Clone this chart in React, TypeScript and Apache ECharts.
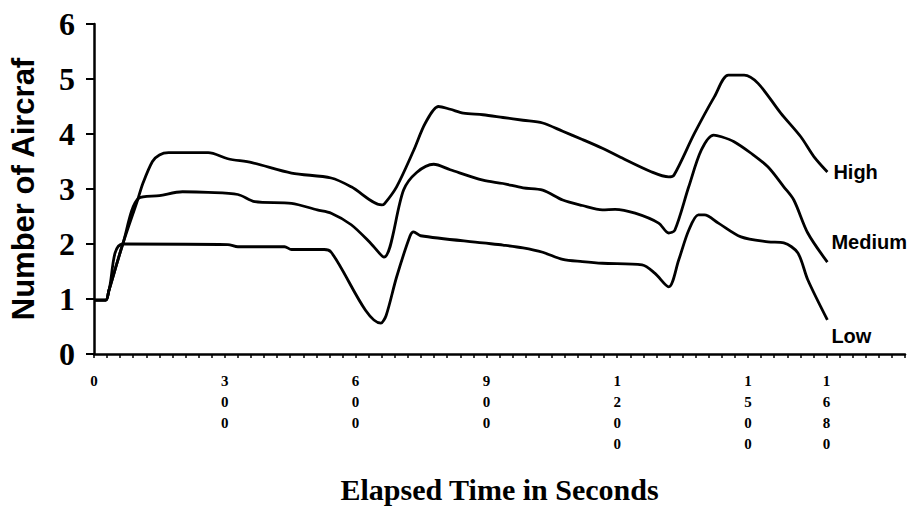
import React, { useEffect, useRef } from "react";
import * as echarts from "echarts";

// [elapsed seconds, number of aircraft]
const highData: [number, number][] = [
  [0, 0.98], [27, 0.98], [34, 1.15], [66, 2.0], [100, 2.8], [112, 3.1], [134, 3.5], [150, 3.62],
  [171, 3.66], [262, 3.66], [307, 3.55], [362, 3.48], [453, 3.29], [544, 3.2], [590, 3.04],
  [660, 2.71], [666, 2.73], [694, 3.04], [733, 3.7], [760, 4.2], [790, 4.5], [817, 4.45],
  [847, 4.38], [892, 4.35], [938, 4.3], [984, 4.25], [1029, 4.2], [1075, 4.05], [1120, 3.9],
  [1166, 3.74], [1204, 3.59], [1279, 3.31], [1318, 3.22], [1330, 3.25], [1377, 4.01],
  [1423, 4.68], [1455, 5.07], [1491, 5.07], [1523, 4.92], [1575, 4.38], [1621, 3.95],
  [1651, 3.59], [1682, 3.31],
];

const mediumData: [number, number][] = [
  [0, 0.98], [27, 0.98], [34, 1.15], [66, 2.0], [102, 2.83], [150, 2.88], [203, 2.95],
  [262, 2.94], [330, 2.9], [369, 2.77], [453, 2.74], [512, 2.62], [544, 2.56], [590, 2.35],
  [635, 2.01], [665, 1.76], [710, 2.98], [740, 3.3], [779, 3.45], [817, 3.35], [892, 3.16],
  [938, 3.1], [984, 3.02], [1029, 2.98], [1075, 2.8], [1120, 2.7], [1166, 2.62], [1195, 2.63],
  [1241, 2.56], [1295, 2.38], [1318, 2.2], [1332, 2.25], [1364, 3.04], [1393, 3.71],
  [1421, 3.98], [1439, 3.95], [1468, 3.86], [1507, 3.65], [1546, 3.4], [1582, 3.04],
  [1605, 2.8], [1637, 2.2], [1682, 1.67],
];

const lowData: [number, number][] = [
  [0, 0.98], [27, 0.98], [34, 1.15], [66, 2.0], [307, 1.99], [330, 1.95], [437, 1.95],
  [453, 1.9], [528, 1.9], [544, 1.85], [658, 0.56], [670, 0.7], [694, 1.4], [725, 2.15],
  [733, 2.22], [749, 2.15], [892, 2.02], [938, 1.98], [984, 1.93], [1029, 1.85], [1075, 1.72],
  [1120, 1.68], [1166, 1.65], [1257, 1.62], [1286, 1.47], [1318, 1.22], [1341, 1.71],
  [1364, 2.25], [1386, 2.53], [1400, 2.53], [1432, 2.38], [1484, 2.13], [1546, 2.04],
  [1582, 2.02], [1614, 1.84], [1637, 1.35], [1682, 0.62],
];

const xLabelValues = [0, 300, 600, 900, 1200, 1500, 1680];
const yTicks = [0, 1, 2, 3, 4, 5, 6];

const seriesNames = ["High", "Medium", "Low"];
const seriesData = [highData, mediumData, lowData];
const labelOffsets: [number, number][] = [[2, 0], [0, -20], [0, 16]];

export default function App() {
  const ref = useRef<HTMLDivElement>(null);
  useEffect(() => {
    if (!ref.current) return;
    const chart = echarts.init(ref.current, undefined, { renderer: "svg" });
    chart.setOption({
      animation: false,
      backgroundColor: "#ffffff",
      grid: { left: 88, right: 10, top: 24, bottom: 169 },
      xAxis: {
        type: "value",
        min: 0,
        max: 1860,
        interval: 30,
        name: "Elapsed Time in Seconds",
        nameLocation: "middle",
        nameGap: 120,
        nameTextStyle: {
          fontFamily: "Liberation Serif",
          fontWeight: "bold",
          fontSize: 30,
          color: "#000",
        },
        axisLine: { show: true, onZero: false, lineStyle: { color: "#000", width: 2.5 } },
        axisTick: { show: true, inside: false, length: 4, lineStyle: { color: "#000", width: 1.5 } },
        splitLine: { show: false },
        axisLabel: {
          customValues: xLabelValues,
          formatter: (v: number) => String(v).split("").join("\n"),
          fontFamily: "Liberation Serif",
          fontWeight: "bold",
          fontSize: 15,
          lineHeight: 21,
          color: "#000",
          margin: 16,
        },
      },
      yAxis: {
        type: "value",
        min: 0,
        max: 6,
        interval: 1,
        name: "Number of Aircraf",
        nameLocation: "middle",
        nameRotate: 90,
        nameGap: 55,
        nameTextStyle: {
          fontFamily: "Liberation Sans",
          fontWeight: "bold",
          fontSize: 31,
          color: "#000",
        },
        axisLine: { show: true, lineStyle: { color: "#000", width: 2.5 } },
        axisTick: { show: true, inside: false, length: 8, lineStyle: { color: "#000", width: 2 } },
        splitLine: { show: false },
        axisLabel: {
          formatter: (v: number) => (yTicks.includes(v) ? String(v) : ""),
          fontFamily: "Liberation Serif",
          fontWeight: "bold",
          fontSize: 32,
          color: "#000",
          margin: 19,
        },
      },
      series: seriesNames.map((name, i) => ({
        name,
        type: "line",
        data: seriesData[i],
        showSymbol: false,
        smooth: 0.3,
        lineStyle: { color: "#000", width: 2.8 },
        endLabel: {
          show: true,
          formatter: name,
          fontFamily: "Liberation Sans",
          fontWeight: "bold",
          fontSize: 20,
          color: "#000",
          distance: 4,
          offset: labelOffsets[i],
        },
      })),
    });
    return () => chart.dispose();
  }, []);
  return (
    <div
      ref={ref}
      style={{ position: "fixed", left: 0, top: 0, width: 915, height: 523, background: "#fff" }}
    />
  );
}
